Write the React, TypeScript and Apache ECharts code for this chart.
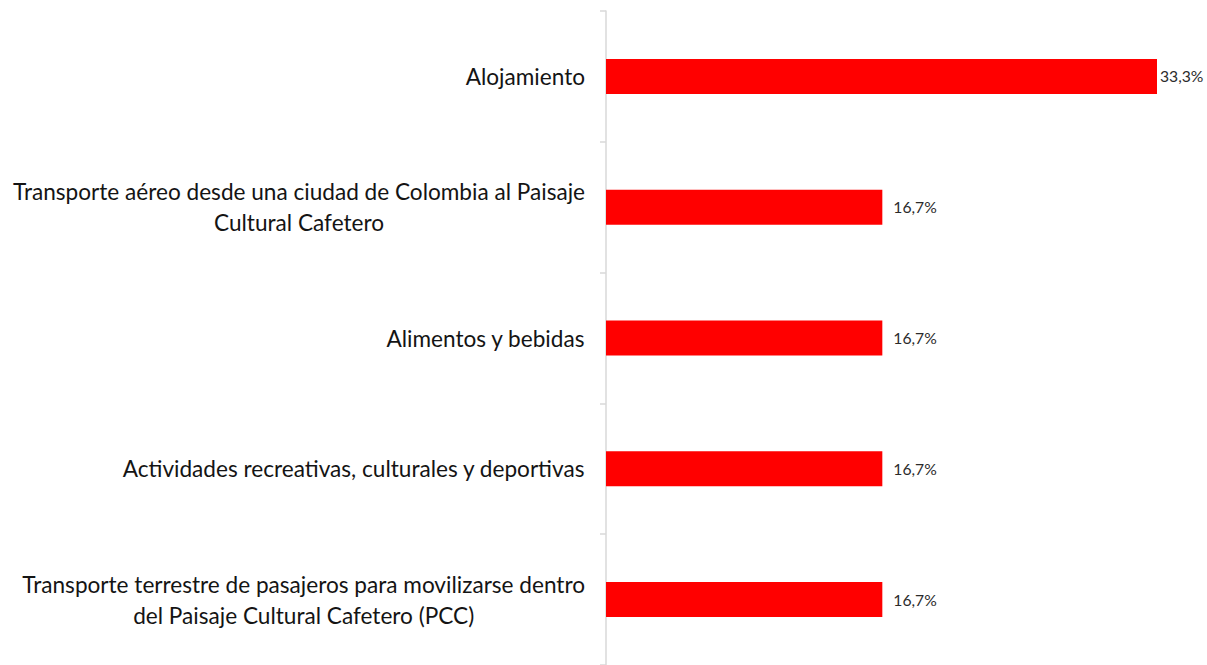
import React, { useEffect, useRef } from "react";
import * as echarts from "echarts";

const categories: string[] = [
  "Alojamiento",
  "Transporte aéreo desde una ciudad de Colombia al Paisaje\nCultural Cafetero",
  "Alimentos y bebidas",
  "Actividades recreativas, culturales y deportivas",
  "Transporte terrestre de pasajeros para movilizarse dentro\ndel Paisaje Cultural Cafetero (PCC)",
];
const values: number[] = [33.3, 16.7, 16.7, 16.7, 16.7];

const FONT = "Lato";

export default function App() {
  const ref = useRef<HTMLDivElement>(null);
  useEffect(() => {
    if (!ref.current) return;
    const chart = echarts.init(ref.current, null, { renderer: "svg" });
    chart.setOption({
      animation: false,
      backgroundColor: "#ffffff",
      grid: { left: 606, right: 50, top: 11, height: 660 },
      xAxis: {
        type: "value",
        min: 0,
        max: 33.3,
        show: false,
        splitLine: { show: false },
      },
      yAxis: {
        type: "category",
        inverse: true,
        data: categories,
        axisLine: { show: true, lineStyle: { color: "#d9d9d9", width: 1.5 } },
        axisTick: { show: true, length: 6, lineStyle: { color: "#d9d9d9", width: 1.5 } },
        axisLabel: {
          margin: 21,
          align: "right",
          fontFamily: FONT,
          fontSize: 22.6,
          color: "#141414",
          lineHeight: 31,
          formatter: (v: string) =>
            v
              .split("\n")
              .map((l) => `{c|${l}}`)
              .join("\n"),
          rich: {
            c: {
              align: "center",
              fontFamily: FONT,
              fontSize: 22.6,
              color: "#141414",
              lineHeight: 31,
            },
          },
        },
      },
      series: [
        {
          type: "bar",
          data: values.map((v, i) => ({
            value: v,
            label: { distance: i === 0 ? 3 : 11 },
          })),
          barWidth: 35,
          itemStyle: { color: "#ff0000" },
          label: {
            show: true,
            position: "right",
            fontFamily: FONT,
            fontSize: 15.7,
            color: "#2b2b2b",
            formatter: (p: any) => `${p.value.toFixed(1).replace(".", ",")}%`,
          },
        },
      ],
    });
    return () => chart.dispose();
  }, []);
  return (
    <div
      ref={ref}
      style={{ position: "fixed", left: 0, top: 0, width: 1207, height: 665, background: "#fff" }}
    />
  );
}
